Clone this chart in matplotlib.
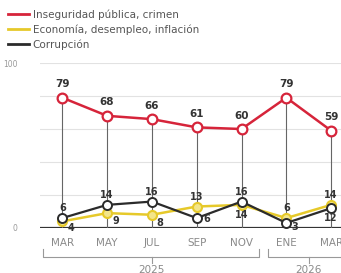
import matplotlib.pyplot as plt
import matplotlib.transforms as mtransforms

months = ["MAR", "MAY", "JUL", "SEP", "NOV", "ENE", "MAR"]
years = ["2025", "2026"]
year_spans = [(0, 4), (5, 6)]

inseguridad = [79, 68, 66, 61, 60, 79, 59]
economia = [4, 9, 8, 13, 14, 6, 14]
corrupcion = [6, 14, 16, 6, 16, 3, 12]

red = "#d6243a"
yellow = "#e6c92a"
black = "#2b2b2b"

# label offsets in points (dx, dy)
eco_off = [(6, -5), (6, -6), (6, -6), (0, 7), (0, -7), (0, 7), (0, 7)]
cor_off = [(0, 7), (0, 7), (0, 7), (7, -1), (0, 7), (6, -3), (0, -7)]

fig = plt.figure(figsize=(3.41, 2.73), dpi=100)
ax = fig.add_axes([0.117, 0.165, 0.883, 0.604])
x = list(range(len(months)))

ax.set_xlim(-0.5, 6.22)
ax.set_ylim(0, 100)
for g in [20, 40, 60, 80, 100]:
    ax.axhline(g, color="#e2e2e2", lw=0.8, zorder=0)
ax.axhline(0, color="#333333", lw=1.6, zorder=1)

ax.vlines(x, 0, inseguridad, color="#666666", lw=0.8, zorder=1)

ax.plot(x, economia, color=yellow, lw=1.8, marker="o", ms=6.5,
        mfc="#f3e58a", mec=yellow, mew=1.5, zorder=3,
        label="Economía, desempleo, inflación")
ax.plot(x, corrupcion, color=black, lw=1.6, marker="o", ms=6.5,
        mfc="white", mec=black, mew=1.4, zorder=4, label="Corrupción")
ax.plot(x, inseguridad, color=red, lw=1.8, marker="o", ms=7,
        mfc="white", mec=red, mew=1.6, zorder=4,
        label="Inseguridad pública, crimen")

for i, v in enumerate(inseguridad):
    ax.annotate(str(v), (i, v), xytext=(0, 6), textcoords="offset points",
                ha="center", va="bottom", fontsize=7.5, fontweight="bold",
                color="#333333", clip_on=False)
for i, v in enumerate(economia):
    dx, dy = eco_off[i]
    ax.annotate(str(v), (i, v), xytext=(dx, dy), textcoords="offset points",
                ha="center", va="center", fontsize=7, fontweight="bold",
                color="#333333", zorder=6)
for i, v in enumerate(corrupcion):
    dx, dy = cor_off[i]
    ax.annotate(str(v), (i, v), xytext=(dx, dy), textcoords="offset points",
                ha="center", va="center", fontsize=7, fontweight="bold",
                color="#333333", zorder=6)

for s in ax.spines.values():
    s.set_visible(False)
ax.set_xticks(x)
ax.set_xticklabels(months, fontsize=7.5, color="#8a8a8a")
ax.tick_params(axis="x", length=0, pad=7)
ax.set_yticks([0, 100])
ax.set_yticklabels(["0", "100"], fontsize=5.5, color="#999999")
ax.tick_params(axis="y", length=0, pad=16)

trans = mtransforms.blended_transform_factory(ax.transData, ax.transAxes)
for yr, (a, b) in zip(years, year_spans):
    x0, x1 = a - 0.42, b + 0.38
    ax.plot([x0, x0, x1, x1], [-0.13, -0.176, -0.176, -0.13],
            color="#999999", lw=0.8, transform=trans, clip_on=False)
    xm = (a + b) / 2
    ax.plot([xm, xm], [-0.176, -0.21], color="#999999", lw=0.8,
            transform=trans, clip_on=False)
    ax.text(xm, -0.255, yr, transform=trans, ha="center", va="center",
            fontsize=7.5, color="#8a8a8a")

h, l = ax.get_legend_handles_labels()
order = [2, 0, 1]
fig.legend([h[i] for i in order], [l[i] for i in order], loc="upper left",
           bbox_to_anchor=(-0.005, 1.0), frameon=False, fontsize=7.5,
           handlelength=2.0, labelspacing=0.42, handletextpad=0.4,
           labelcolor="#555555")
for line in fig.legends[0].get_lines():
    line.set_marker("")
    line.set_linewidth(2)

fig.savefig("out.png", dpi=100)
